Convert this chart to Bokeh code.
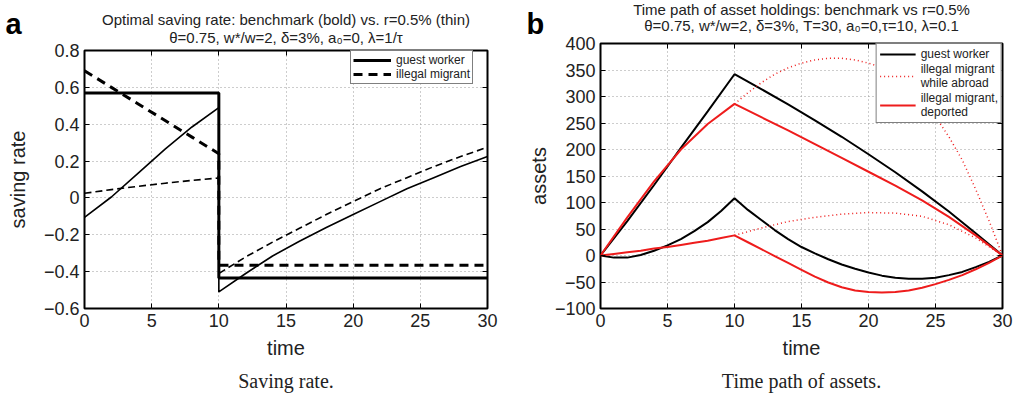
from bokeh.plotting import figure
from bokeh.layouts import row
from bokeh.models import Range1d, FixedTicker, LinearAxis, Legend, LegendItem, Label
from bokeh.embed import file_html
from bokeh.resources import INLINE

FONT = "Liberation Sans"
SERIF = "Liberation Serif"

# ---------------- Panel a: saving rate ----------------
a_xticks = [0, 5, 10, 15, 20, 25, 30]
a_yticks = [-0.6, -0.4, -0.2, 0, 0.2, 0.4, 0.6, 0.8]
a_ylabels = ["\u22120.6", "\u22120.4", "\u22120.2", "0", "0.2", "0.4", "0.6", "0.8"]

gw_bench_t = [0, 10, 10, 30]
gw_bench_s = [0.57, 0.57, -0.435, -0.435]
im_bench_t = [0, 2, 4, 6, 8, 10, 10, 30]
im_bench_s = [0.69, 0.60, 0.51, 0.42, 0.33, 0.24, -0.365, -0.365]
thin_t = [0, 2, 4, 6, 8, 10, 10, 12, 14, 16, 18, 20, 22, 24, 26, 28, 30]
gw_thin_s = [-0.105, 0.005, 0.135, 0.265, 0.385, 0.49,
             -0.51, -0.41, -0.315, -0.235, -0.16, -0.09, -0.02, 0.05, 0.11, 0.17, 0.225]
im_thin_s = [0.025, 0.045, 0.063, 0.08, 0.095, 0.108,
             -0.41, -0.32, -0.24, -0.165, -0.09, -0.02, 0.05, 0.11, 0.17, 0.225, 0.275]

# ---------------- Panel b: assets ----------------
b_xticks = [0, 5, 10, 15, 20, 25, 30]
b_yticks = [-100, -50, 0, 50, 100, 150, 200, 250, 300, 350, 400]
b_ylabels = ["\u2212100", "\u221250", "0", "50", "100", "150", "200", "250", "300", "350", "400"]

t_step2 = [0, 2, 4, 6, 8, 10, 12, 14, 16, 18, 20, 22, 24, 26, 28, 30]
gw_bench_a = [0, 65, 133, 203, 272, 342, 314, 285, 255, 224, 191, 157, 121, 83, 42, 0]
dep_bench_a = [0, 72, 140, 200, 248, 286, 261, 236, 210, 184, 158, 132, 104, 73, 38, 0]

t_step1 = list(range(0, 31))
gw_thin_a = [0, -4, -4, 1, 9, 19, 31, 46, 63, 84, 108,
             86, 67, 48, 31, 16, 4, -7, -17, -25, -32,
             -38, -42, -44, -44, -42, -37, -31, -22, -12, 0]
dep_thin_a = [0, 3, 6, 9, 13, 16, 20, 24, 28, 33, 38,
              25, 12, -1, -14, -27, -40, -51, -60, -66, -69,
              -70, -69, -66, -61, -54, -46, -37, -26, -14, 0]

t_abroad_bench = [10, 11, 12, 13, 14, 15, 16, 17, 18, 19, 20, 21, 22, 23, 24, 25, 26, 27, 28, 29, 30]
abroad_bench_a = [286, 307, 326, 342, 354, 363, 369, 372, 372, 369, 363, 355, 343, 325, 298,
                  262, 224, 180, 125, 65, 0]
t_abroad_thin = [10, 12, 14, 16, 18, 20, 22, 24, 26, 28, 30]
abroad_thin_a = [38, 52, 64, 72, 78, 81, 80, 74, 58, 33, 0]


def style(p, xticks, yticks, ylabels, xlabel, ylabel, ylabel_standoff):
    xt = FixedTicker(ticks=xticks)
    yt = FixedTicker(ticks=yticks)
    p.xaxis.ticker = xt
    p.yaxis.ticker = yt
    p.yaxis.major_label_overrides = {t: l for t, l in zip(yticks, ylabels)}
    for ax in (p.xaxis[0], p.yaxis[0]):
        ax.axis_line_color = None
        ax.major_tick_in = 5
        ax.major_tick_out = 0
        ax.minor_tick_line_color = None
        ax.major_tick_line_color = "black"
        ax.major_label_text_font = FONT
        ax.major_label_text_font_size = "18px"
        ax.major_label_text_color = "#222222"
        ax.axis_label_text_font = FONT
        ax.axis_label_text_font_size = "20px"
        ax.axis_label_text_font_style = "normal"
        ax.axis_label_text_color = "#222222"
        ax.major_label_standoff = 5
    p.xaxis.axis_label = xlabel
    p.yaxis.axis_label = ylabel
    p.xaxis.axis_label_standoff = 7
    p.yaxis.axis_label_standoff = ylabel_standoff
    for side, tk in (("right", yt), ("above", xt)):
        ax = LinearAxis(ticker=tk, axis_line_color=None, major_tick_in=5, major_tick_out=0,
                        minor_tick_line_color=None, major_label_text_font_size="0px",
                        major_label_text_color=None, major_label_standoff=0)
        p.add_layout(ax, side)
    p.xgrid.grid_line_color = "#9a9a9a"
    p.ygrid.grid_line_color = "#9a9a9a"
    p.xgrid.grid_line_dash = "1 3"
    p.ygrid.grid_line_dash = "1 3"
    p.outline_line_color = "black"
    p.outline_line_width = 2
    p.background_fill_color = "white"
    p.border_fill_color = "white"
    try:
        p.frame_align = False
    except Exception:
        pass


def txt(p, side, **kw):
    kw.setdefault("text_font", FONT)
    kw.setdefault("text_color", "#222222")
    kw.setdefault("text_baseline", "middle")
    p.add_layout(Label(**kw), side)


# ---- figure a ----
pa = figure(width=506, height=393, output_backend="svg", toolbar_location=None,
            x_range=Range1d(0, 30), y_range=Range1d(-0.6, 0.8),
            min_border_left=84, min_border_right=19, min_border_top=50, min_border_bottom=85)
style(pa, a_xticks, a_yticks, a_ylabels, "time", "saving rate", 12)

r_gw_b = pa.line(gw_bench_t, gw_bench_s, line_color="black", line_width=3)
r_im_b = pa.line(im_bench_t, im_bench_s, line_color="black", line_width=3, line_dash="9 6")
pa.line(thin_t, gw_thin_s, line_color="black", line_width=1.6)
pa.line(thin_t, im_thin_s, line_color="black", line_width=1.6, line_dash="7 4")

leg_a = Legend(items=[LegendItem(label="guest worker", renderers=[r_gw_b]),
                      LegendItem(label="illegal migrant", renderers=[r_im_b])],
               location=(266, 224), label_text_font=FONT, label_text_font_size="12px",
               label_text_color="#222222", label_height=12, glyph_height=12, glyph_width=38,
               label_standoff=5, spacing=0, padding=2, margin=0,
               border_line_color="black", border_line_width=1.5, background_fill_alpha=1)
pa.add_layout(leg_a, "center")

txt(pa, "above", x=15, y=0.8, y_offset=31, text="Optimal saving rate: benchmark (bold) vs. r=0.5% (thin)",
    text_align="center", text_font_size="15px")
txt(pa, "above", x=15, y=0.8, y_offset=13, text="\u03b8=0.75, w*/w=2, \u03b4=3%, a\u2080=0, \u03bb=1/\u03c4",
    text_align="center", text_font_size="15px")
txt(pa, "right", x=0, y=0.8, x_offset=-79, y_offset=27, text="a", text_align="left",
    text_font_size="29px", text_font_style="bold", text_color="black")
txt(pa, "below", x=15, y=-0.6, y_offset=-72, text="Saving rate.", text_align="center",
    text_font=SERIF, text_font_size="20px")

# ---- figure b ----
pb = figure(width=507, height=393, output_backend="svg", toolbar_location=None,
            x_range=Range1d(0, 30), y_range=Range1d(-100, 400),
            min_border_left=93, min_border_right=11, min_border_top=43, min_border_bottom=85)
style(pb, b_xticks, b_yticks, b_ylabels, "time", "assets", 2)

RED = "#ee1c1c"
r_gw = pb.line(t_step2, gw_bench_a, line_color="black", line_width=2)
pb.line(t_step1, gw_thin_a, line_color="black", line_width=2)
r_ab = pb.line(t_abroad_bench, abroad_bench_a, line_color=RED, line_width=1.5, line_dash="1 3")
pb.line(t_abroad_thin, abroad_thin_a, line_color=RED, line_width=1.5, line_dash="1 3")
r_dep = pb.line(t_step2, dep_bench_a, line_color=RED, line_width=2)
pb.line(t_step1, dep_thin_a, line_color=RED, line_width=2)

leg_b = Legend(items=[LegendItem(label="guest worker", renderers=[r_gw]),
                      LegendItem(label="illegal migrant\nwhile abroad", renderers=[r_ab]),
                      LegendItem(label="illegal migrant,\ndeported", renderers=[r_dep])],
               location="top_right", label_text_font=FONT, label_text_font_size="12px",
               label_text_color="#222222", label_height=12, glyph_height=12, glyph_width=36,
               label_text_line_height=1.0,
               label_standoff=5, spacing=1, padding=3, margin=0,
               border_line_color="black", border_line_width=1.5, background_fill_alpha=1)
pb.add_layout(leg_b, "center")

txt(pb, "above", x=15, y=400, y_offset=34, text="Time path of asset holdings: benchmark vs r=0.5%",
    text_align="center", text_font_size="15px")
txt(pb, "above", x=15, y=400, y_offset=18.5,
    text="\u03b8=0.75, w*/w=2, \u03b4=3%, T=30, a\u2080=0,\u03c4=10, \u03bb=0.1",
    text_align="center", text_font_size="15px")
txt(pb, "left", x=0, y=400, x_offset=-74, y_offset=20, text="b", text_align="left",
    text_font_size="29px", text_font_style="bold", text_color="black")
txt(pb, "below", x=15, y=-100, y_offset=-72, text="Time path of assets.", text_align="center",
    text_font=SERIF, text_font_size="20px")

layout = row(pa, pb)
open("out.html", "w").write(file_html(layout, INLINE))
